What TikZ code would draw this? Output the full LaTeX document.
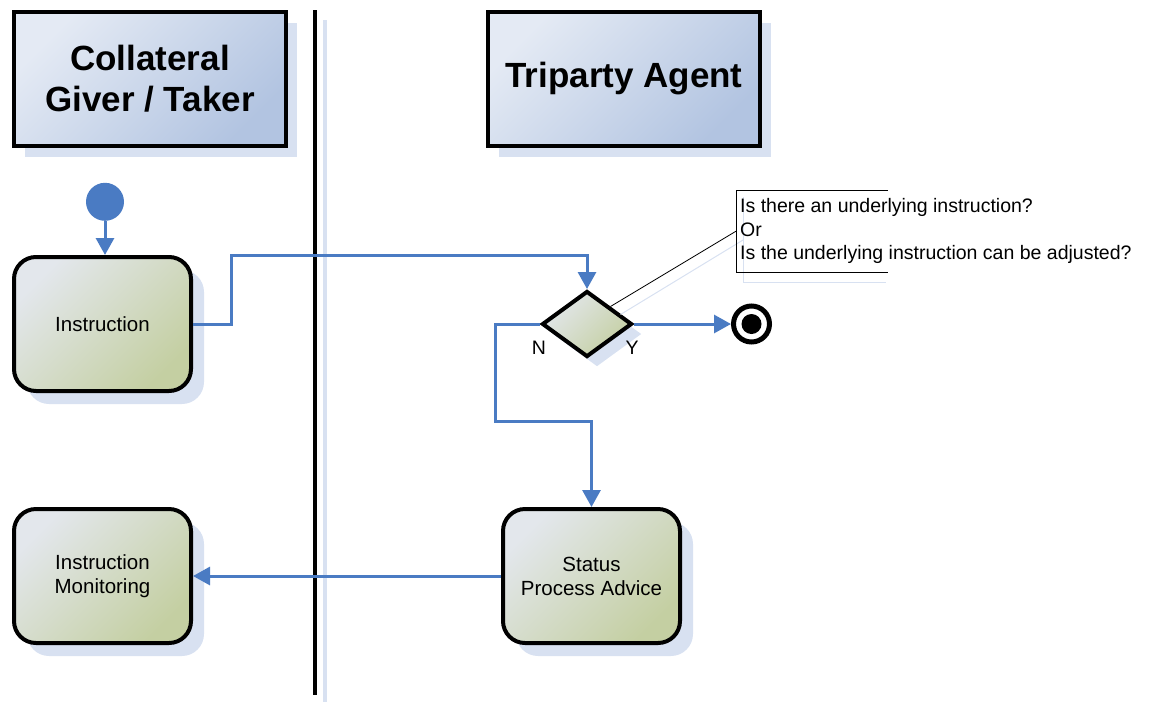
\documentclass[tikz,border=0pt]{standalone}
\usepackage{fontspec}
\setmainfont{Liberation Sans}
\usetikzlibrary{positioning, arrows.meta, shapes.geometric, shadows}

\definecolor{flowblue}{RGB}{74,123,195}
\definecolor{shadeblue}{RGB}{216,225,241}
\definecolor{laneTop}{RGB}{228,234,244}
\definecolor{laneBot}{RGB}{178,196,225}
\definecolor{actTop}{RGB}{227,231,236}
\definecolor{actBot}{RGB}{196,207,162}

\begin{document}
\begin{tikzpicture}[x=1pt, y=-1pt,
  lane/.style={draw, line width=4pt, top color=laneTop, bottom color=laneBot, shading angle=45,
    minimum width=272pt, minimum height=134pt, align=center,
    font=\fontsize{35}{41}\selectfont\bfseries,
    general shadow={fill=shadeblue, shadow xshift=11pt, shadow yshift=-11pt}},
  act/.style={draw, line width=4pt, rounded corners=22pt, top color=actTop, bottom color=actBot, shading angle=45,
    minimum width=177pt, minimum height=134pt, align=center, font=\fontsize{20.5}{24}\selectfont,
    general shadow={fill=shadeblue, shadow xshift=13pt, shadow yshift=-13pt}},
  flow/.style={draw=flowblue, line width=3pt, -{Triangle[length=17pt, width=18pt]}},
  every node/.style={font=\fontsize{19.5}{23.5}\selectfont}]
\useasboundingbox (0,0) rectangle (1155,702);

% swimlane separator
\draw[shadeblue, line width=4pt] (325,20) -- (325,702);
\draw[line width=4pt] (315,10) -- (315,695);

% lane headers
\node (giver) [lane] at (150,79) {Collateral\\Giver / Taker};
\node (agent) [lane] at (624,79) {Triparty Agent};

% activities
\node (instr) [act] at (102.5,324) {Instruction};
\node (start) [circle, fill=flowblue, minimum size=38pt, inner sep=0pt, above=34pt of instr, xshift=2.5pt] {};
\node (mon) [act] at (102.5,576) {Instruction\\Monitoring};
\node (status) [act] at (591.5,576) {Status\\Process Advice};

% decision
\node (dec) [diamond, draw, line width=4pt, top color=actTop, bottom color=actBot, shading angle=45,
  minimum width=90pt, minimum height=66pt, aspect=1.36, inner sep=0pt,
  general shadow={fill=shadeblue, shadow xshift=10pt, shadow yshift=-10pt}] at (587,324) {};
\node (lblN) at (539,348) {N};
\node (lblY) at (632,348) {Y};
\node (stop) [circle, draw, line width=5pt, minimum size=36pt, inner sep=0pt, right=97pt of dec,
  path picture={\fill (path picture bounding box.center) circle (10);}] {};

% comment on the decision
\draw[shadeblue, line width=1pt] ([xshift=10pt, yshift=-8pt]dec.north east) -- (743,240);
\draw[shadeblue, line width=1pt] (743,197) -- (743,282) -- (886,282);
\node (note) [anchor=north west, minimum height=82pt, inner sep=4pt, align=left] at (736,190)
  {Is there an underlying instruction?\\Or\\Is the underlying instruction can be adjusted?};
\draw[line width=0.8pt] ([xshift=152pt]note.north west) -- (note.north west)
  -- (note.south west) -- ([xshift=152pt]note.south west);
\draw[line width=0.8pt] (dec.north east) -- (note.west);

% flows
\draw[flow] (start) -- (start |- instr.north);
\draw[flow] (instr.east) -- ++(38,0) |- ([yshift=34pt]dec.north) -- (dec.north);
\draw[flow] (dec.east) -- (stop);
\draw[flow] (dec.west) -- ++(-45,0) -- ++(0,97) -| (status.north);
\draw[flow] (status.west) -- (mon.east);

\end{tikzpicture}
\end{document}
